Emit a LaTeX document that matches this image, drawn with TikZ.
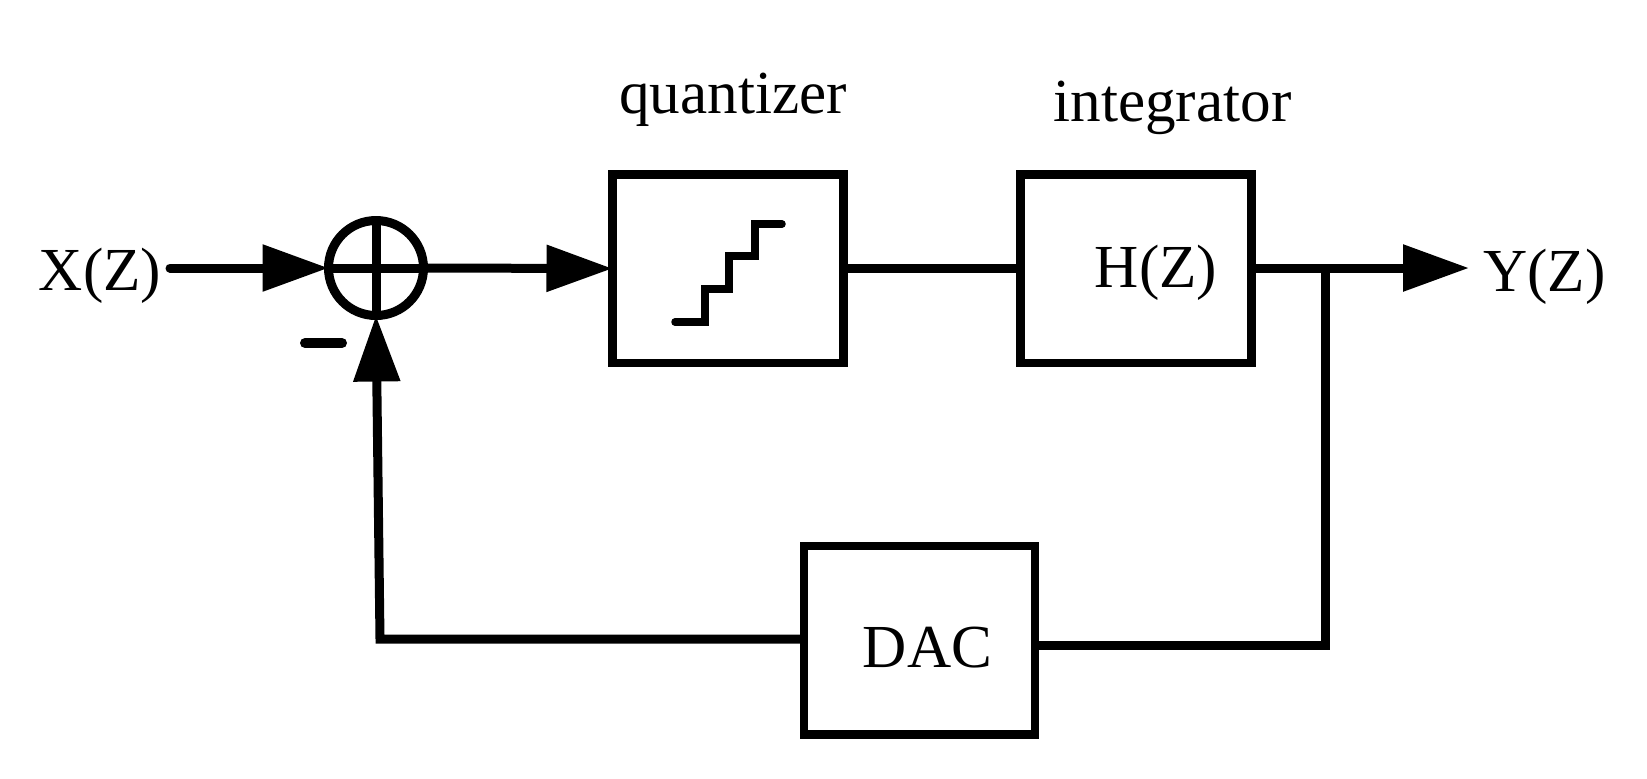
\documentclass[tikz,border=0pt]{standalone}
\usepackage{fontspec}
\setmainfont{Liberation Serif}
\usetikzlibrary{arrows.meta}

\tikzset{
	blockbox/.style={draw, line width=0.085cm, minimum width=2.31cm, minimum height=1.885cm, outer sep=0pt},
	sumnode/.style={draw, circle, line width=0.09cm, minimum size=0.95cm, inner sep=0pt, outer sep=0pt},
	lbl/.style={inner sep=0pt, anchor=base, font=\fontsize{17.4}{20}\selectfont},
	conn/.style={line width=0.09cm},
	connarrow/.style={conn, -{Triangle[length=0.66cm, width=0.45cm]}}
}

\begin{document}
\begin{tikzpicture}
	\useasboundingbox (0, 0) rectangle (16.47, -7.78);

	% blocks
	\node[blockbox] (quant) at (7.28, -2.685) {};
	\node[blockbox] (integ) at (11.36, -2.685) {};
	\node[blockbox] (dac) at (9.195, -6.40) {};
	\node[sumnode] (sum) at (3.76, -2.68) {};
	\draw[conn] (sum.north) -- (sum.south);
	\draw[conn] (sum.west) -- (sum.east);

	% texts
	\node[lbl] (xin) at (1.00, -2.90) {X(Z)};
	\node[lbl] (yout) at (15.445, -2.91) {Y(Z)};
	\node[lbl] (quantlbl) at (7.33, -1.13) {quantizer};
	\node[lbl] (integlbl) at (11.725, -1.21) {integrator};
	\node[lbl] (hz) at (11.56, -2.87) {H(Z)};
	\node[lbl] (daclbl) at (9.275, -6.67) {DAC};

	\coordinate (ytip) at (14.69, -2.68);
	\coordinate (jct) at (13.25, -2.68);
	\coordinate (dacin) at (13.25, -6.45);
	\coordinate (dacout) at (8.00, -6.39);
	\coordinate (fbcorner) at (3.80, -6.39);

	% signal path
	\draw[connarrow, line cap=round] (1.70, -2.68) coordinate (xstart) -- (sum.west);
	\draw[connarrow] (sum.east) -- (quant.west);
	\draw[conn] (quant.east) -- (integ.west);
	\draw[connarrow] (integ.east |- ytip) -- (ytip);

	% feedback
	\draw[conn, line join=miter] (jct) -- (dacin) -- (dac.east |- dacin);
	\draw[connarrow, line join=miter] (dacout) -- (fbcorner) -- (sum.south);
	\draw[line width=0.1cm, line cap=round] (3.05, -3.43) -- (3.42, -3.43);

	% staircase
	\draw[line width=0.075cm, line cap=round] (6.75, -3.22) -- (7.05, -3.22) -- (7.05, -2.89) -- (7.29, -2.89) -- (7.29, -2.56) -- (7.55, -2.56) -- (7.55, -2.24) -- (7.82, -2.24);
\end{tikzpicture}
\end{document}
